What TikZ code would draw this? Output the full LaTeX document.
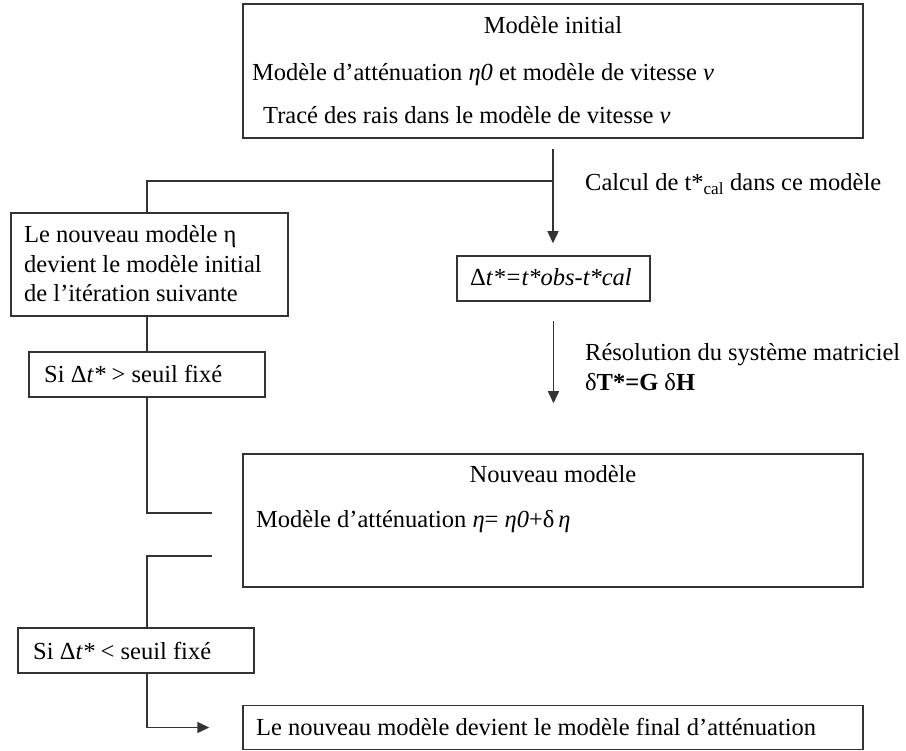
\documentclass[tikz,border=0pt]{standalone}
\usepackage{fontspec}
\setmainfont{Liberation Serif}
\usetikzlibrary{arrows.meta}
\definecolor{linec}{gray}{0.2}
\begin{document}
\begin{tikzpicture}[x=1pt,y=-1pt,
  box/.style={draw=linec, line width=1.5pt, inner sep=0pt},
  txt/.style={inner sep=0pt, text height=17pt, text depth=5pt, font=\fontsize{24.5}{30}\selectfont},
  conn/.style={draw=linec, line width=1.5pt},
  arr/.style={conn, -{Triangle[length=12pt,width=11pt]}}]
\useasboundingbox (0,0) rectangle (906,751);
% boxes
\node[box, minimum width=620pt, minimum height=134pt] (top) at (553,71) {};
\node[box, minimum width=277pt, minimum height=103pt] (ln) at (149.5,264.5) {};
\node[box, minimum width=193pt, minimum height=45pt] (delta) at (553.5,278.5) {};
\node[box, minimum width=236pt, minimum height=45pt] (si1) at (147,374.5) {};
\node[box, minimum width=620pt, minimum height=133pt] (nm) at (553,520.5) {};
\node[box, minimum width=236pt, minimum height=45pt] (si2) at (136,650.5) {};
\node[box, minimum width=620pt, minimum height=44pt] (fin) at (553,727.5) {};
% texts
\node[txt] (t1) at (553,28) {Modèle initial};
\node[txt, anchor=west] (t2) at (252,75) {Modèle d’atténuation \textit{η0} et modèle de vitesse \textit{ν}};
\node[txt, anchor=west] (t3) at (263,118) {Tracé des rais dans le modèle de vitesse \textit{ν}};
\node[txt, anchor=west] (calc) at (585,185) {Calcul de t*\textsubscript{cal} dans ce modèle};
\node[txt, anchor=west] (ln1) at (24,237) {Le nouveau modèle η};
\node[txt, anchor=west] (ln2) at (24,267) {devient le modèle initial};
\node[txt, anchor=west] (ln3) at (24,296) {de l’itération suivante};
\node[txt, anchor=west] (dt) at (470,280) {Δ\textit{t*=t*obs-t*cal}};
\node[txt, anchor=west] (si1t) at (44,377) {Si Δ\textit{t*} > seuil fixé};
\node[txt, anchor=west] (res1) at (585,355) {Résolution du système matriciel};
\node[txt, anchor=west] (res2) at (585,385) {δ\textbf{T*=G} δ\textbf{H}};
\node[txt] (nm1) at (553,477) {Nouveau modèle};
\node[txt, anchor=west] (nm2) at (256,522) {Modèle d’atténuation \textit{η}= \textit{η0}+δ\,\textit{η}};
\node[txt, anchor=west] (si2t) at (33,653) {Si Δ\textit{t*} < seuil fixé};
\node[txt, anchor=west] (fint) at (256,729) {Le nouveau modèle devient le modèle final d’atténuation};
% coordinates
\coordinate (j1) at (553,181);
\coordinate (colL) at (147,0);
\coordinate (s1) at (212,513);
\coordinate (s2) at (212,556);
% connectors
\draw[arr, shorten <=10pt, shorten >=12pt] (top.south) -- (top.south |- delta.north);
\draw[conn] (j1) -| (ln.north -| colL);
\draw[arr, shorten <=19pt, shorten >=50pt] (delta.south) -- (delta.south |- nm.north);
\draw[conn] (ln.south -| colL) -- (si1.north -| colL);
\draw[conn] (si1.south -| colL) |- (s1);
\draw[conn] (s2) -| (si2.north -| colL);
\draw[arr] (si2.south -| colL) |- ([xshift=-33pt]fin.west);
\end{tikzpicture}
\end{document}
